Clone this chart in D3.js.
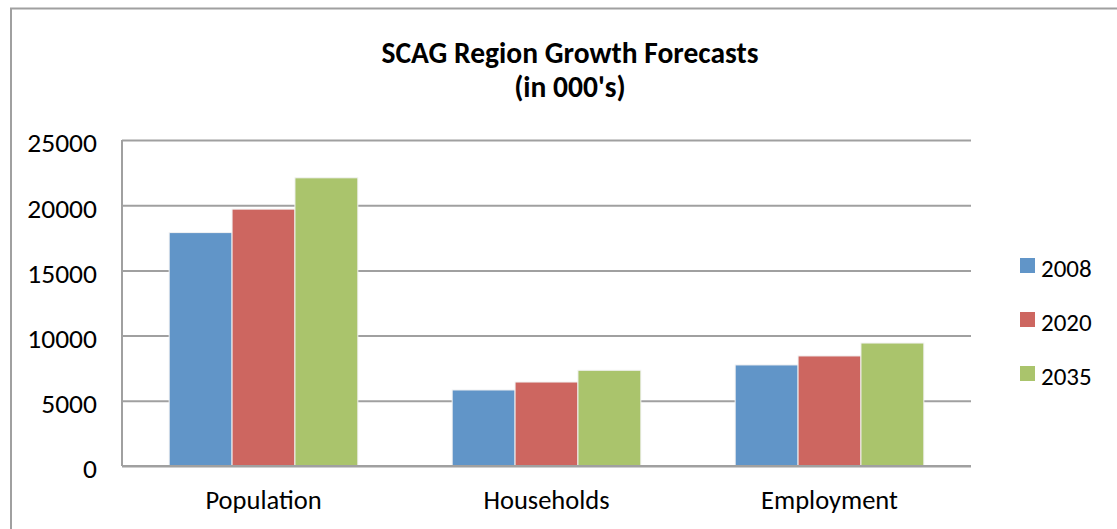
<!DOCTYPE html>
<html>
<head>
<meta charset="utf-8">
<script src="https://cdn.jsdelivr.net/npm/d3@7"></script>
<style>
  body { margin: 0; background: #fff; }
  text { font-family: Carlito, Calibri, Lato, sans-serif; fill: #000; }
</style>
</head>
<body>
<svg id="chart"></svg>
<script>
// data (thousands)
const categories = ["Population", "Households", "Employment"];
const years = ["2008", "2020", "2035"];
const values2008 = [17900, 5830, 7750];
const values2020 = [19700, 6440, 8440];
const values2035 = [22100, 7340, 9430];
const yTicks = [0, 5000, 10000, 15000, 20000, 25000];
const colors = ["#6195c8", "#cd6660", "#aac46c"];

const W = 1117, H = 529;
const margin = {top: 140, right: 146, bottom: 63, left: 122};
const width = W - margin.left - margin.right,
      height = H - margin.top - margin.bottom;

const svg = d3.select("#chart")
    .attr("width", W)
    .attr("height", H);

// outer chart frame (runs off the right and bottom edges)
svg.append("rect")
    .attr("x", 11).attr("y", 8.5)
    .attr("width", 1300).attr("height", 700)
    .attr("fill", "none")
    .attr("stroke", "#a0a0a0")
    .attr("stroke-width", 2);

// title
svg.append("text")
    .attr("x", 570).attr("y", 63)
    .attr("text-anchor", "middle")
    .style("font-weight", "bold")
    .style("font-size", "29.5px")
    .text("SCAG Region Growth Forecasts");
svg.append("text")
    .attr("x", 570).attr("y", 97)
    .attr("text-anchor", "middle")
    .style("font-weight", "bold")
    .style("font-size", "29.5px")
    .text("(in 000's)");

const g = svg.append("g")
    .attr("transform", "translate(" + margin.left + "," + margin.top + ")");

const x0 = d3.scaleBand()
    .domain(categories)
    .range([0, width])
    .paddingInner(1 / 3)
    .paddingOuter(1 / 6);

const x1 = d3.scaleBand()
    .domain(years)
    .range([0, x0.bandwidth()]);

const y = d3.scaleLinear()
    .domain([0, 25000])
    .range([height, 0]);

// gridlines
const grid = g.append("g")
    .call(d3.axisLeft(y).tickValues(yTicks).tickSize(-width).tickFormat(""));
grid.select(".domain").remove();
grid.selectAll("line")
    .attr("stroke", "#a0a0a0")
    .attr("stroke-width", 2);

// y axis labels
const yAxis = g.append("g")
    .call(d3.axisLeft(y).tickValues(yTicks).tickSize(0).tickPadding(25).tickFormat(d3.format("d")));
yAxis.select(".domain").remove();
yAxis.selectAll("text")
    .attr("dy", "0.43em")
    .style("font-size", "27.5px");

// series
const series = [values2008, values2020, values2035];
series.forEach((vals, i) => {
  g.append("g")
    .selectAll("rect")
    .data(vals)
    .join("rect")
      .attr("x", (d, j) => x0(categories[j]) + x1(years[i]))
      .attr("y", d => y(d))
      .attr("width", x1.bandwidth())
      .attr("height", d => height - y(d))
      .attr("fill", colors[i])
      .attr("stroke", "#f2f2f2")
      .attr("stroke-width", 1);
});

// axis lines
g.append("line")
    .attr("x1", 0).attr("x2", 0)
    .attr("y1", 0).attr("y2", height)
    .attr("stroke", "#a0a0a0")
    .attr("stroke-width", 2);
g.append("line")
    .attr("x1", 0).attr("x2", width)
    .attr("y1", height).attr("y2", height)
    .attr("stroke", "#a0a0a0")
    .attr("stroke-width", 2);

// category labels
const xAxis = g.append("g")
    .attr("transform", "translate(0," + height + ")")
    .call(d3.axisBottom(x0).tickSize(0).tickPadding(24));
xAxis.select(".domain").remove();
xAxis.selectAll("text")
    .style("font-size", "26.5px");

// legend
const legend = svg.append("g")
    .selectAll("g")
    .data(years)
    .join("g")
      .attr("transform", (d, i) => "translate(1020," + (258 + i * 54) + ")");
legend.append("rect")
    .attr("width", 15).attr("height", 15)
    .attr("fill", (d, i) => colors[i]);
legend.append("text")
    .attr("x", 21).attr("y", 18.5)
    .style("font-size", "25px")
    .text(d => d);
</script>
</body>
</html>
